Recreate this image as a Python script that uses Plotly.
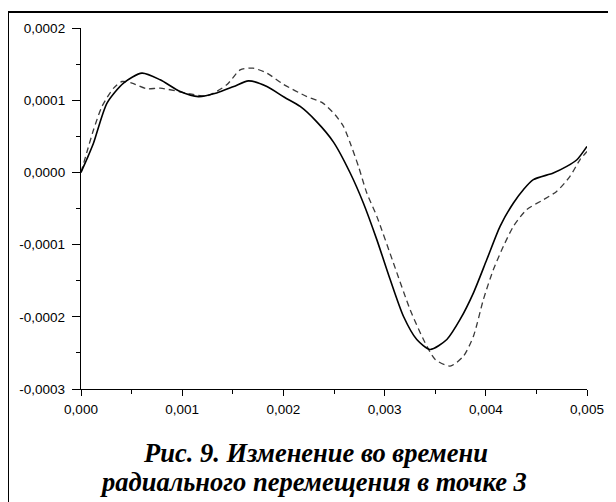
import plotly.graph_objects as go

# Data
t_solid = [0.0, 0.00006, 0.000124, 0.000257, 0.00042, 0.000602, 0.000783, 0.00098, 0.00116, 0.00134,
           0.00151, 0.001655, 0.001837, 0.00201, 0.002166, 0.00233, 0.002495, 0.00266, 0.00279,
           0.002923, 0.003055, 0.003186, 0.003318, 0.00345, 0.003615, 0.003746, 0.003878,
           0.00401, 0.004141, 0.004273, 0.004371, 0.00447, 0.004667, 0.0048, 0.0049, 0.005]
u_solid = [0.0, 0.000019, 0.0000407, 0.000096, 0.0001237, 0.0001375, 0.0001282, 0.000112, 0.000105, 0.00011,
           0.000119, 0.0001268, 0.000119, 0.000104, 0.0000913, 0.0000700, 0.0000420, -0.0000008, -0.0000423,
           -0.0000931, -0.0001484, -0.0001992, -0.0002314, -0.0002452, -0.0002314, -0.0002037, -0.0001668,
           -0.0001207, -0.0000747, -0.0000423, -0.0000239, -0.0000101, -0.0000008, 0.0000083, 0.0000175, 0.000036]

t_dash = [0.0, 0.00006, 0.000124, 0.000207, 0.000322, 0.000405, 0.000504, 0.000652, 0.000783, 0.00108,
          0.001244, 0.00144, 0.001573, 0.0017, 0.001837, 0.002, 0.002232, 0.00238, 0.002511, 0.002594,
          0.00266, 0.002742, 0.002824, 0.002923, 0.003087, 0.003252, 0.003384, 0.0035, 0.003647, 0.003779,
          0.003878, 0.003976, 0.004075, 0.004174, 0.004273, 0.004404, 0.00457, 0.0047, 0.004832, 0.00493, 0.005]
u_dash = [0.0, 0.000029, 0.000059, 0.0000913, 0.0001167, 0.0001259, 0.0001236, 0.0001158, 0.0001167, 0.0001088,
          0.000106, 0.0001213, 0.000142, 0.0001444, 0.0001375, 0.000122, 0.000105, 0.000097, 0.0000798, 0.0000636,
          0.0000407, 0.0000083, -0.0000285, -0.0000609, -0.0001253, -0.00019, -0.0002314, -0.000259, -0.0002683,
          -0.0002545, -0.0002268, -0.0001761, -0.0001346, -0.0001023, -0.0000747, -0.0000516, -0.0000378,
          -0.0000263, -0.0000055, 0.0000175, 0.000029]

x_ticks = [0.0, 0.001, 0.002, 0.003, 0.004, 0.005]
x_labels = ["0,000", "0,001", "0,002", "0,003", "0,004", "0,005"]
y_ticks = [-0.0003, -0.0002, -0.0001, 0.0, 0.0001, 0.0002]
y_labels = ["-0,0003", "-0,0002", "-0,0001", "0,0000", "0,0001", "0,0002"]

caption_1 = "Рис. 9. Изменение во времени"
caption_2 = "радиального перемещения в точке 3"

W, H = 616, 502
OFF = 8  # page body margin: screenshot px = figure px + 8
ML, MT = 81 - OFF, 28 - OFF
PW, PH = 506, 361
MR = W - ML - PW
MB = H - MT - PH


def px_x(p):  # p in screenshot px
    return (p - OFF - ML) / PW


def px_y(p):
    return (MT + PH - (p - OFF)) / PH


fig = go.Figure()
fig.add_trace(go.Scatter(x=t_dash, y=u_dash, mode="lines",
                         line=dict(color="#3a3a3a", width=1.3, dash="6px,4px", shape="spline", smoothing=0.7),
                         showlegend=False, hoverinfo="skip"))
fig.add_trace(go.Scatter(x=t_solid, y=u_solid, mode="lines",
                         line=dict(color="black", width=1.6, shape="spline", smoothing=0.7),
                         showlegend=False, hoverinfo="skip"))

tickfont = dict(family="Liberation Sans, Arial, sans-serif", size=13.5, color="black")
fig.update_xaxes(range=[0, 0.005], tickvals=x_ticks, ticktext=x_labels, showgrid=False, zeroline=False,
                 showline=True, linecolor="black", linewidth=1.3, ticks="outside", ticklen=6, tickwidth=1.3,
                 tickcolor="black", tickfont=tickfont, ticklabelstandoff=2,
                 minor=dict(dtick=0.0005, tick0=0, ticks="outside", ticklen=4, tickwidth=1.3, tickcolor="black"))
fig.update_yaxes(range=[-0.0003, 0.0002], tickvals=y_ticks, ticktext=y_labels, showgrid=False, zeroline=False,
                 showline=True, linecolor="black", linewidth=1.3, ticks="outside", ticklen=8, tickwidth=1.3,
                 tickcolor="black", tickfont=tickfont, ticklabelstandoff=4,
                 minor=dict(dtick=0.00005, tick0=0, ticks="outside", ticklen=4, tickwidth=1.3, tickcolor="black"))

capfont = dict(family="Liberation Serif, Times New Roman, serif", size=26.5, color="black")
fig.add_annotation(text="<b><i>" + caption_1 + "</i></b>", xref="paper", yref="paper",
                   x=px_x(315), y=px_y(453), xanchor="center", yanchor="middle", showarrow=False, font=capfont)
fig.add_annotation(text="<b><i>" + caption_2 + "</i></b>", xref="paper", yref="paper",
                   x=px_x(313), y=px_y(482), xanchor="center", yanchor="middle", showarrow=False, font=capfont)

# outer frame (top and left edges visible in the reference)
fig.add_shape(type="line", xref="paper", yref="paper", x0=px_x(8), x1=px_x(700), y0=px_y(12), y1=px_y(12),
              line=dict(color="black", width=2))
fig.add_shape(type="line", xref="paper", yref="paper", x0=px_x(8), x1=px_x(8), y0=px_y(12), y1=px_y(600),
              line=dict(color="black", width=2))

fig.update_layout(width=W, height=H, margin=dict(l=ML, r=MR, t=MT, b=MB),
                  paper_bgcolor="white", plot_bgcolor="white")
fig.write_html("out.html")
